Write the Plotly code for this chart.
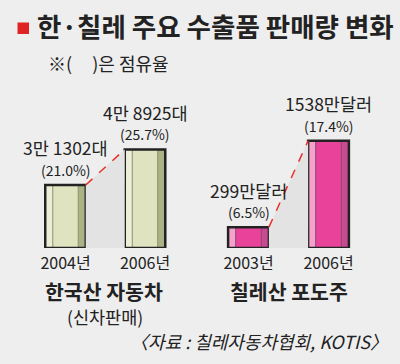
import plotly.graph_objects as go

# ---- data ----
car_years = ["2004년", "2006년"]
car_values = [31302, 48925]
car_labels = ["3만 1302대", "4만 8925대"]
car_shares = ["(21.0%)", "(25.7%)"]

wine_years = ["2003년", "2006년"]
wine_values = [299, 1538]
wine_labels = ["299만달러", "1538만달러"]
wine_shares = ["(6.5%)", "(17.4%)"]

title = "한·칠레 주요 수출품 판매량 변화"
subtitle = "※(     )은 점유율"
cat_car = "한국산 자동차"
cat_car_sub = "(신차판매)"
cat_wine = "칠레산 포도주"
source = "〈자료 : 칠레자동차협회, KOTIS〉"

FONT = "Noto Sans CJK KR"
BG = "#eeeeee"
W = 0.51       # bar width (axis units)
S = 0.095      # side strip width
pos = [0, 1]

fig = go.Figure()


def add_panel(values, xa, ya, main, light, dark, inner):
    x0, x1 = pos
    # shadow between bars
    fig.add_trace(go.Scatter(
        x=[x0 + W / 2, x1 - W / 2, x1 - W / 2, x0 + W / 2],
        y=[values[0], values[1], 0, 0], fill="toself", mode="lines",
        fillcolor="#e3e3e3", line=dict(width=0), xaxis=xa, yaxis=ya,
        hoverinfo="skip", showlegend=False))
    # main fill
    fig.add_trace(go.Bar(x=pos, y=values, width=W, offset=-W / 2,
                         marker=dict(color=main, line=dict(width=0)),
                         xaxis=xa, yaxis=ya, showlegend=False, hoverinfo="skip"))
    fig.add_trace(go.Bar(x=pos, y=values, width=S, offset=-W / 2,
                         marker=dict(color=light, line=dict(width=1, color=inner)),
                         xaxis=xa, yaxis=ya, showlegend=False, hoverinfo="skip"))
    fig.add_trace(go.Bar(x=pos, y=values, width=S, offset=W / 2 - S,
                         marker=dict(color=dark, line=dict(width=1, color=inner)),
                         xaxis=xa, yaxis=ya, showlegend=False, hoverinfo="skip"))
    # outline
    fig.add_trace(go.Bar(x=pos, y=values, width=W, offset=-W / 2,
                         marker=dict(color="rgba(0,0,0,0)", line=dict(width=2.5, color="#222222")),
                         xaxis=xa, yaxis=ya, showlegend=False, hoverinfo="skip"))
    # dashed connector
    fig.add_trace(go.Scatter(
        x=[x0 + W / 2, x1 - W / 2], y=[values[0], values[1]], mode="lines",
        line=dict(color="#e8302a", width=1.5, dash="dash"),
        xaxis=xa, yaxis=ya, hoverinfo="skip", showlegend=False))


add_panel(car_values, "x", "y", "#dfe3c0", "#ecefd6", "#aab384", "#8e9070")
add_panel(wine_values, "x2", "y2", "#e8429b", "#f4a2cc", "#c84a90", "#8a4a70")


def add_labels(values, labels, shares, xa, ya):
    for p, v, lab, sh in zip(pos, values, labels, shares):
        fig.add_annotation(x=p, y=v, xref=xa, yref=ya, text=lab, showarrow=False,
                           yanchor="middle", yshift=37,
                           font=dict(family=FONT, size=17.5, color="#222222"))
        fig.add_annotation(x=p, y=v, xref=xa, yref=ya, text=sh, showarrow=False,
                           yanchor="middle", yshift=15,
                           font=dict(family=FONT, size=14, color="#222222"))


add_labels(car_values, car_labels, car_shares, "x", "y")
add_labels(wine_values, wine_labels, wine_shares, "x2", "y2")

base = (364 - 248) / 364
dom_h = 200 / 364
car_a = 0.002015   # px per unit
wine_a = 0.06972

axis_common = dict(showgrid=False, zeroline=False, showline=False, ticks="",
                   tickfont=dict(family=FONT, size=16, color="#222222"), fixedrange=True)

fig.update_layout(
    width=400, height=364,
    margin=dict(l=0, r=0, t=0, b=0),
    paper_bgcolor=BG, plot_bgcolor="rgba(0,0,0,0)",
    barmode="overlay",
    showlegend=False,
    hovermode=False,
    xaxis=dict(domain=[25.75 / 400, 184.75 / 400], range=[-0.5, 1.5],
               tickvals=pos, ticktext=car_years, anchor="y", ticklabelstandoff=4, **axis_common),
    xaxis2=dict(domain=[208.5 / 400, 368.5 / 400], range=[-0.5, 1.5],
                tickvals=pos, ticktext=wine_years, anchor="y2", ticklabelstandoff=4, **axis_common),
    yaxis=dict(domain=[base, base + dom_h], range=[0, 200 / car_a],
               showticklabels=False, anchor="x", **axis_common),
    yaxis2=dict(domain=[base, base + dom_h], range=[0, 200 / wine_a],
                showticklabels=False, anchor="x2", **axis_common),
)

# title block
fig.add_shape(type="rect", xref="paper", yref="paper",
              x0=17.5 / 400, x1=29 / 400, y0=(364 - 34) / 364, y1=(364 - 22.5) / 364,
              fillcolor="#e02424", line=dict(width=0))
fig.add_annotation(x=35 / 400, y=(364 - 26) / 364, xref="paper", yref="paper",
                   text="<b>" + title + "</b>", showarrow=False, xanchor="left", yanchor="middle",
                   font=dict(family=FONT, size=26.5, color="#222222"))
fig.add_annotation(x=46 / 400, y=(364 - 63) / 364, xref="paper", yref="paper",
                   text=subtitle, showarrow=False, xanchor="left", yanchor="middle",
                   font=dict(family=FONT, size=18, color="#222222"))

# category labels
fig.add_annotation(x=104 / 400, y=(364 - 291) / 364, xref="paper", yref="paper",
                   text="<b>" + cat_car + "</b>", showarrow=False, xanchor="center", yanchor="middle",
                   borderpad=0, borderwidth=0,
                   font=dict(family=FONT, size=20.5, color="#222222"))
fig.add_annotation(x=104.5 / 400, y=(364 - 316) / 364, xref="paper", yref="paper",
                   text=cat_car_sub, showarrow=False, xanchor="center", yanchor="middle",
                   borderpad=0, borderwidth=0,
                   font=dict(family=FONT, size=17.5, color="#222222"))
fig.add_annotation(x=288.5 / 400, y=(364 - 291) / 364, xref="paper", yref="paper",
                   text="<b>" + cat_wine + "</b>", showarrow=False, xanchor="center", yanchor="middle",
                   font=dict(family=FONT, size=20.5, color="#222222"))
fig.add_annotation(x=390 / 400, y=(364 - 341) / 364, xref="paper", yref="paper",
                   text="<i>" + source + "</i>", showarrow=False, xanchor="right", yanchor="middle",
                   font=dict(family=FONT, size=18, color="#222222"))

fig.write_html("out.html", config={"displayModeBar": False, "staticPlot": True},
               post_script="document.body.style.margin='0';")
